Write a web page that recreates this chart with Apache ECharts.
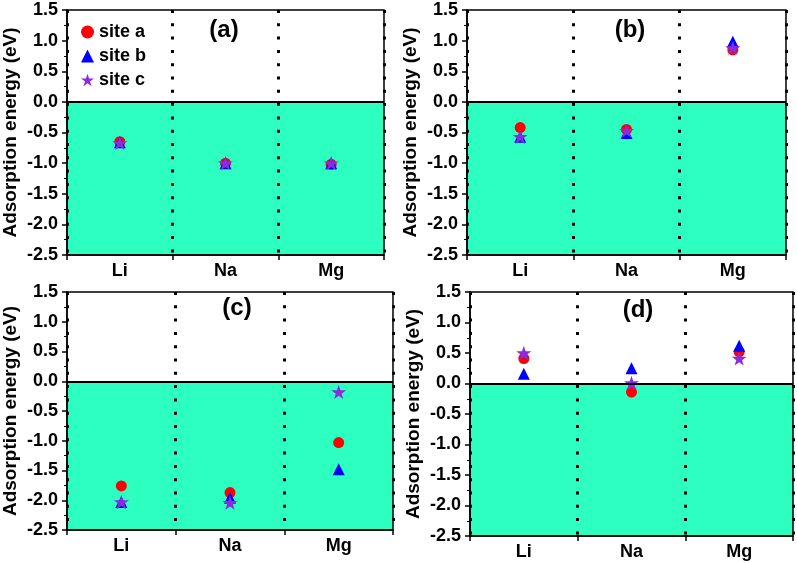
<!DOCTYPE html>
<html>
<head>
<meta charset="utf-8">
<script src="https://cdn.jsdelivr.net/npm/echarts@6/dist/echarts.min.js"></script>
<style>
html,body{margin:0;padding:0;background:#fff;}
#chart{width:797px;height:563px;}
</style>
</head>
<body>
<div id="chart"></div>
<script>
// ---- data ----
const categories = ['Li', 'Na', 'Mg'];
const seriesNames = ['site a', 'site b', 'site c'];
const panelLabels = ['(a)', '(b)', '(c)', '(d)'];
const yTitle = 'Adsorption energy (eV)';

// panel (a)
const aSiteA = [-0.65, -1.00, -1.02];
const aSiteB = [-0.66, -1.00, -1.00];
const aSiteC = [-0.67, -1.00, -1.00];
// panel (b)
const bSiteA = [-0.42, -0.45, 0.85];
const bSiteB = [-0.57, -0.51, 0.98];
const bSiteC = [-0.57, -0.47, 0.88];
// panel (c)
const cSiteA = [-1.76, -1.87, -1.03];
const cSiteB = [-2.03, -1.96, -1.48];
const cSiteC = [-2.03, -2.04, -0.18];
// panel (d)
const dSiteA = [0.41, -0.14, 0.52];
const dSiteB = [0.16, 0.25, 0.62];
const dSiteC = [0.50, 0.01, 0.41];

const yMin = -2.5, yMax = 1.5, yInterval = 0.5;

const panels = [
  [aSiteA, aSiteB, aSiteC],
  [bSiteA, bSiteB, bSiteC],
  [cSiteA, cSiteB, cSiteC],
  [dSiteA, dSiteB, dSiteC]
];

// ---- styles ----
const FONT = '"Liberation Sans", Arial, sans-serif';
const GREEN = '#2cffc0';
const STAR = 'path://M50 0 L61.23 34.55 L97.55 34.55 L68.16 55.9 L79.39 90.45 L50 69.1 L20.61 90.45 L31.84 55.9 L2.45 34.55 L38.77 34.55 Z';
const symbols = ['circle', 'triangle', STAR];
const symbolSizes = [11, 12, 15];
const colors = ['#ff0000', '#0000ff', '#8a2be2'];

const gridPos = [
  {left: 67, top: 10, width: 317, height: 245},
  {left: 467, top: 10, width: 319, height: 245},
  {left: 67, top: 292, width: 326, height: 238},
  {left: 470, top: 292, width: 323, height: 244}
];
const labelPos = [[224, 30], [630, 30], [237, 308], [638, 310]];

const grids = [], xAxes = [], yAxes = [], series = [], graphics = [];
gridPos.forEach((g, i) => {
  grids.push(Object.assign({show: true, borderColor: '#000', borderWidth: 1.5, backgroundColor: 'transparent', z: 10}, g));
  xAxes.push({
    gridIndex: i, type: 'category', data: categories, boundaryGap: true, z: 3,
    axisLine: {show: true, onZero: false, lineStyle: {color: '#000', width: 1.5}},
    axisTick: {show: true, inside: false, length: 5, lineStyle: {color: '#000', width: 1.5}},
    axisLabel: {color: '#000', fontFamily: FONT, fontWeight: 'bold', fontSize: 18, margin: 7},
    splitLine: {show: true, lineStyle: {color: '#000', width: 3, type: [3, 10.3]}}
  });
  yAxes.push({
    gridIndex: i, type: 'value', min: yMin, max: yMax, interval: yInterval, z: 3,
    name: yTitle, nameLocation: 'middle', nameGap: 47,
    nameTextStyle: {color: '#000', fontFamily: FONT, fontWeight: 'bold', fontSize: 19},
    axisLine: {show: true, lineStyle: {color: '#000', width: 1.5}},
    axisTick: {show: true, inside: false, length: 5, lineStyle: {color: '#000', width: 1.5}},
    minorTick: {show: true, splitNumber: 2, length: 3, lineStyle: {color: '#000', width: 1}},
    axisLabel: {color: '#000', fontFamily: FONT, fontWeight: 'bold', fontSize: 18, margin: 9,
      formatter: v => v.toFixed(1)},
    splitLine: {show: false}
  });
  panels[i].forEach((vals, k) => {
    const s = {
      name: seriesNames[k], type: 'scatter', xAxisIndex: i, yAxisIndex: i,
      data: vals.map((v, j) => [categories[j], v]),
      symbol: symbols[k], symbolSize: symbolSizes[k], symbolKeepAspect: true,
      itemStyle: {color: colors[k], opacity: 1},
      z: 2 + k * 0.1
    };
    if (k === 0) {
      s.markArea = {silent: true, itemStyle: {color: GREEN, opacity: 1},
        data: [[{yAxis: 0}, {yAxis: yMin}]]};
      s.markLine = {silent: true, symbol: 'none', label: {show: false},
        lineStyle: {color: '#000', type: 'solid', width: 2},
        data: [{yAxis: 0}]};
    }
    series.push(s);
  });
  graphics.push({type: 'text', x: labelPos[i][0], y: labelPos[i][1], z: 20,
    style: {text: panelLabels[i], fill: '#000', fontFamily: FONT, fontWeight: 'bold', fontSize: 24,
      align: 'center', verticalAlign: 'middle'}});
});

const chart = echarts.init(document.getElementById('chart'), null, {renderer: 'canvas'});
chart.setOption({
  animation: false,
  backgroundColor: '#fff',
  grid: grids, xAxis: xAxes, yAxis: yAxes, series: series, graphic: graphics,
  legend: {
    data: seriesNames, orient: 'vertical', left: 76, top: 18,
    itemWidth: 13, itemHeight: 13, itemGap: 6,
    textStyle: {color: '#000', fontFamily: FONT, fontWeight: 'bold', fontSize: 18},
    selectedMode: false
  }
});
</script>
</body>
</html>
